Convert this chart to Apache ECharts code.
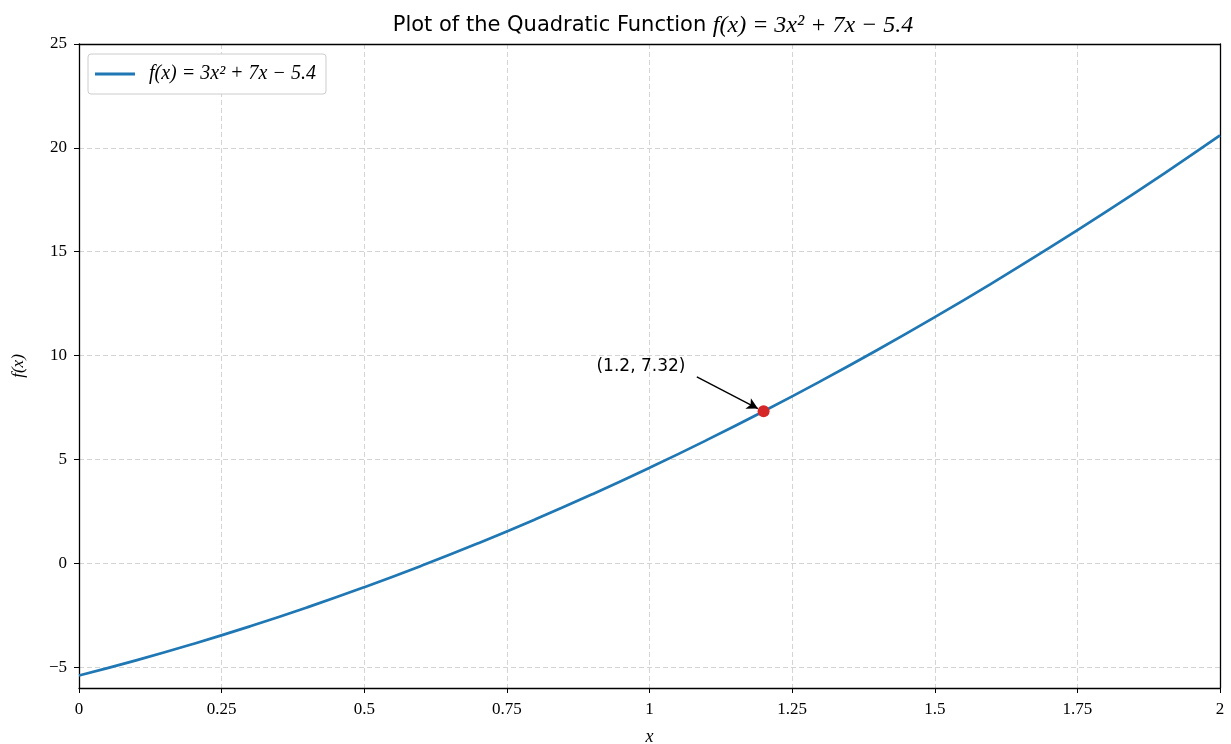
<!DOCTYPE html>
<html><head><meta charset="utf-8">
<script src="https://cdn.jsdelivr.net/npm/echarts@6/dist/echarts.min.js"></script>
<style>html,body{margin:0;padding:0;background:#fff}#c{width:1231px;height:744px}</style>
</head><body><div id="c"></div>
<script>
const xValues = [0,0.1,0.2,0.3,0.4,0.5,0.6,0.7,0.8,0.9,1.0,1.1,1.2,1.3,1.4,1.5,1.6,1.7,1.8,1.9,2.0];
const yValues = [-5.4,-4.67,-3.88,-3.03,-2.12,-1.15,-0.12,0.97,2.12,3.33,4.6,5.93,7.32,8.77,10.28,11.85,13.48,15.17,16.92,18.73,20.6];
const highlightPoint = [1.2, 7.32];
const annotationText = '(1.2, 7.32)';
const annotationTextAt = [0.985, 9.45];
const arrowFrom = [1.083, 8.98];
const arrowTo = [1.19, 7.45];
const yTicks = [-5, 0, 5, 10, 15, 20, 25];
const xTicks = [0, 0.25, 0.5, 0.75, 1, 1.25, 1.5, 1.75, 2];
const seriesName = 'f(x) = 3x² + 7x − 5.4';

const serif = 'Liberation Serif';
const sans = 'DejaVu Sans';
const fmtNum = v => (v < 0 ? '\u2212' + Math.abs(v) : String(v));
const gridLine = {show: true, lineStyle: {color: '#d4d4d4', type: [5, 3], width: 1}};

const chart = echarts.init(document.getElementById('c'), null, {renderer: 'canvas'});
chart.setOption({
  animation: false,
  backgroundColor: '#fff',
  title: {
    text: '{a|Plot of the Quadratic Function }{b|f(x) = 3x² + 7x − 5.4}',
    left: 648, top: 9, textAlign: 'center',
    textStyle: {
      fontWeight: 'normal',
      rich: {
        a: {fontFamily: sans, fontSize: 21, fontWeight: 'normal', color: '#000'},
        b: {fontFamily: serif, fontStyle: 'italic', fontSize: 24, fontWeight: 'normal', color: '#000'}
      }
    }
  },
  legend: {
    left: 88, top: 54,
    orient: 'vertical',
    backgroundColor: '#fff',
    borderColor: '#ccc', borderWidth: 1, borderRadius: 3,
    padding: [10, 10, 10, 7],
    itemWidth: 40, itemHeight: 3, icon: 'rect',
    itemGap: 0,
    textStyle: {fontFamily: serif, fontStyle: 'italic', fontSize: 20, color: '#000', padding: [0, 0, 0, 9]},
    data: [seriesName]
  },
  grid: {left: 79, right: 11, top: 44, bottom: 56, containLabel: false, outerBoundsMode: 'none'},
  xAxis: [{
    type: 'value', min: 0, max: 2, interval: 0.25,
    name: 'x', nameLocation: 'middle', nameGap: 40,
    nameTextStyle: {fontFamily: serif, fontStyle: 'italic', fontSize: 18, color: '#000'},
    axisLine: {show: true, onZero: false, lineStyle: {color: '#000', width: 1.3}},
    axisTick: {show: true, length: 5, lineStyle: {color: '#000'}},
    axisLabel: {fontFamily: serif, fontSize: 17, color: '#000', margin: 13, formatter: v => fmtNum(v)},
    splitLine: gridLine
  }, {
    type: 'value', min: 0, max: 2, position: 'top',
    axisLine: {show: true, onZero: false, lineStyle: {color: '#000', width: 1.3}},
    axisTick: {show: false}, axisLabel: {show: false}, splitLine: {show: false}
  }],
  yAxis: [{
    type: 'value', min: -6, max: 25,
    name: 'f(x)', nameLocation: 'middle', nameGap: 52, nameRotate: 90,
    nameTextStyle: {fontFamily: serif, fontStyle: 'italic', fontSize: 17, color: '#000'},
    axisLine: {show: true, onZero: false, lineStyle: {color: '#000', width: 1.3}},
    axisTick: {show: true, length: 5, lineStyle: {color: '#000'}, customValues: yTicks},
    axisLabel: {fontFamily: serif, fontSize: 17, color: '#000', margin: 12, customValues: yTicks, formatter: v => fmtNum(v)},
    splitLine: gridLine
  }, {
    type: 'value', min: -6, max: 25, position: 'right',
    axisLine: {show: true, onZero: false, lineStyle: {color: '#000', width: 1.3}},
    axisTick: {show: false}, axisLabel: {show: false}, splitLine: {show: false}
  }],
  series: [
    {
      name: seriesName, type: 'line', smooth: true, showSymbol: false,
      data: xValues.map((x, i) => [x, yValues[i]]),
      lineStyle: {color: '#1f77b4', width: 2.7},
      itemStyle: {color: '#1f77b4'},
      z: 3
    },
    {
      name: 'point', type: 'scatter', data: [highlightPoint],
      symbolSize: 12, itemStyle: {color: '#d62728', opacity: 1}, z: 5,
      markLine: {
        silent: true, symbol: ['none', 'arrow'], symbolSize: [9, 11],
        lineStyle: {color: '#000', width: 1.4, type: 'solid'},
        label: {show: false},
        data: [[{coord: arrowFrom}, {coord: arrowTo}]]
      },
      markPoint: {
        silent: true, symbol: 'circle', symbolSize: 0,
        label: {show: true, position: 'inside', formatter: annotationText, fontFamily: sans, fontSize: 17, color: '#000'},
        data: [{coord: annotationTextAt}]
      }
    }
  ]
});
</script></body></html>
